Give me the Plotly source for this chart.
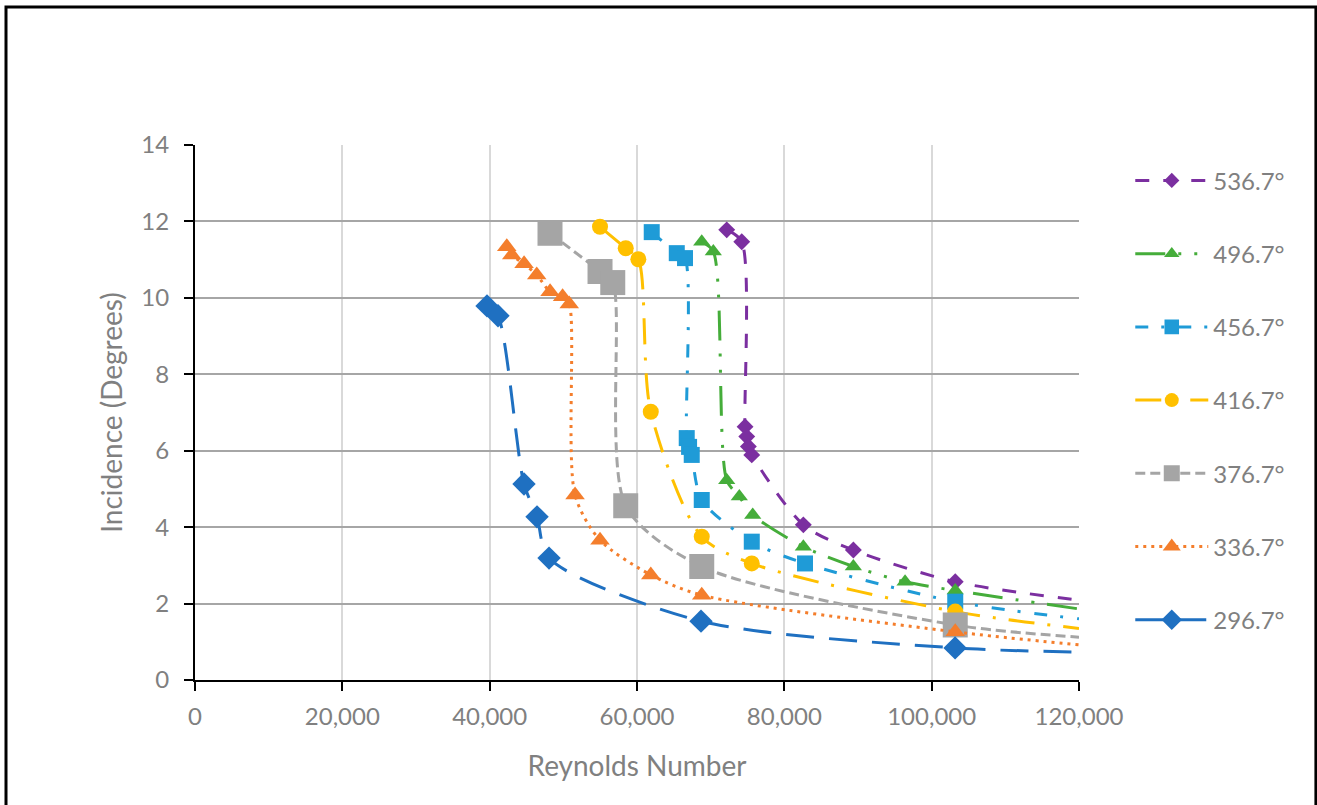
import plotly.graph_objects as go

# Reynolds number sweeps; the last entry of each list is the line end at 120,000 (no marker)
labels = ["296.7°", "336.7°", "376.7°", "416.7°", "456.7°", "496.7°", "536.7°"]

re_2967 = [39640, 41130, 44660, 46430, 48060, 68690, 103180, 120000]
inc_2967 = [9.79, 9.53, 5.13, 4.27, 3.19, 1.54, 0.84, 0.73]

re_3367 = [42320, 43000, 44670, 46390, 48200, 49900, 50800, 51590, 54980, 61870, 68790, 103200, 120000]
inc_3367 = [11.34, 11.12, 10.89, 10.60, 10.16, 10.03, 9.84, 4.84, 3.66, 2.75, 2.22, 1.26, 0.92]

re_3767 = [48190, 54980, 56710, 58470, 68790, 103200, 120000]
inc_3767 = [11.69, 10.69, 10.40, 4.56, 2.97, 1.44, 1.12]

re_4167 = [54980, 58470, 60180, 61870, 68790, 75580, 103200, 120000]
inc_4167 = [11.86, 11.30, 11.01, 7.02, 3.75, 3.05, 1.79, 1.35]

re_4567 = [62000, 65400, 66520, 66750, 67070, 67430, 68790, 75580, 82810, 103200, 120000]
inc_4567 = [11.72, 11.17, 11.04, 6.33, 6.10, 5.89, 4.71, 3.62, 3.05, 2.05, 1.60]

re_4967 = [68790, 70360, 72180, 73890, 75710, 82580, 89370, 96390, 103200, 120000]
inc_4967 = [11.47, 11.21, 5.23, 4.80, 4.32, 3.49, 2.97, 2.57, 2.34, 1.86]

re_5367 = [72180, 74220, 74670, 74900, 75120, 75580, 82580, 89370, 103200, 120000]
inc_5367 = [11.78, 11.47, 6.63, 6.37, 6.11, 5.89, 4.06, 3.40, 2.57, 2.09]

x_ticks = [0, 20000, 40000, 60000, 80000, 100000, 120000]
y_ticks = [0, 2, 4, 6, 8, 10, 12, 14]

# listed from the hottest case down, so the 296.7° series is drawn on top
series = [
    (labels[6], re_5367, inc_5367, "#7B2FA0", "diamond", 13, "14px,14px"),
    (labels[5], re_4967, inc_4967, "#45AD3A", "triangle-up", 15, "30px,13px,3px,13px,3px,13px"),
    (labels[4], re_4567, inc_4567, "#1F9BD7", "square", 16, "13px,13px,3px,14px"),
    (labels[3], re_4167, inc_4167, "#FFC000", "circle", 16, "26px,13px,3px,13px"),
    (labels[2], re_3767, inc_3767, "#A5A5A5", "square", 25, "10px,5px"),
    (labels[1], re_3367, inc_3367, "#F47E2C", "triangle-up", 17, "3px,5px"),
    (labels[0], re_2967, inc_2967, "#1F70C1", "diamond", 18, "28px,15px"),
]

fig = go.Figure()
for name, xs, ys, color, symbol, size, dash in series:
    sizes = [size] * (len(xs) - 1) + [0]
    fig.add_trace(go.Scatter(
        x=xs, y=ys, name=name, mode="lines+markers",
        legendgroup=name,
        line=dict(color=color, width=3, dash=dash, shape="spline", smoothing=0.8),
        marker=dict(color=color, symbol=symbol, size=sizes, opacity=1, line=dict(width=0)),
    ))

font_family = "Lato, 'Open Sans', sans-serif"
fig.update_layout(
    width=1317, height=805,
    margin=dict(l=195, r=238, t=145, b=125),
    paper_bgcolor="white", plot_bgcolor="white",
    font=dict(family=font_family, color="#808080", size=24),
    showlegend=True,
    legend=dict(
        x=1.058, y=0.975, xanchor="left", yanchor="top",
        traceorder="grouped", tracegroupgap=39,
        font=dict(size=24, color="#808080"),
        itemwidth=73, bgcolor="rgba(0,0,0,0)",
    ),
    xaxis=dict(
        range=[0, 120000], tickvals=x_ticks, tickformat=",d",
        showgrid=True, gridcolor="#D9D9D9", gridwidth=2,
        showline=True, linecolor="black", linewidth=2,
        ticks="outside", ticklen=9, tickcolor="black", tickwidth=2,
        zeroline=False, ticklabelstandoff=5,
        tickfont=dict(size=24, color="#808080"),
        title=dict(text="Reynolds Number", font=dict(size=28, color="#808080"), standoff=28),
    ),
    yaxis=dict(
        range=[0, 14], tickvals=y_ticks,
        showgrid=True, gridcolor="#A6A6A6", gridwidth=2,
        showline=True, linecolor="black", linewidth=2,
        ticks="outside", ticklen=9, tickcolor="black", tickwidth=2,
        zeroline=False, ticklabelstandoff=10,
        tickfont=dict(size=24, color="#808080"),
        title=dict(text="Incidence (Degrees)", font=dict(size=28, color="#808080"), standoff=11),
    ),
    shapes=[dict(
        type="rect", xref="paper", yref="paper",
        x0=-0.2138, x1=1.268, y0=-0.3, y1=1.258,
        line=dict(color="black", width=3), layer="below",
    )],
)

fig.write_html("out.html")
